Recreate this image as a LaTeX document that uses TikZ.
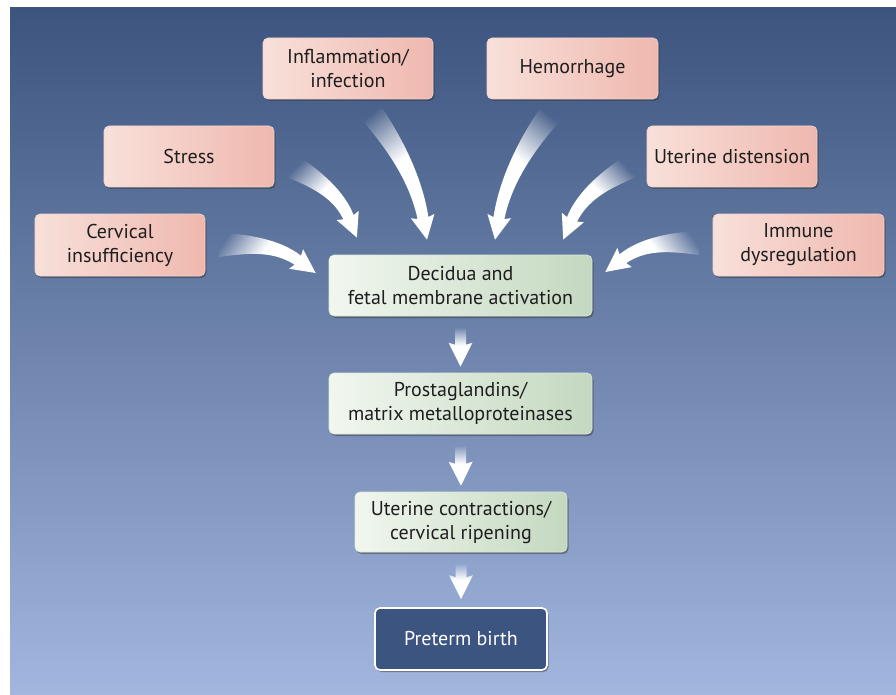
\documentclass[tikz,border=0pt]{standalone}
\usepackage{fontspec}
\setmainfont{PT Sans}
\usetikzlibrary{calc,shadows,fadings}
\definecolor{bgtop}{RGB}{60,84,126}
\definecolor{bgbot}{RGB}{162,182,222}
\definecolor{pinkL}{RGB}{248,224,218}
\definecolor{pinkR}{RGB}{239,184,174}
\definecolor{greenL}{RGB}{241,247,239}
\definecolor{greenR}{RGB}{196,216,192}
\definecolor{ptb}{RGB}{60,84,128}
\definecolor{txt}{RGB}{30,30,30}
\pgfdeclarehorizontalshading{tfshade}{100bp}{color(0bp)=(black); color(25bp)=(black); color(48bp)=(white); color(100bp)=(white)}
\pgfdeclarefading{tailfade}{\pgfuseshading{tfshade}}
\newcommand\cvarrow[4]{%
  \pgfpointdiff{\pgfpointanchor{#1}{center}}{\pgfpointanchor{#2}{center}}%
  \pgfgetlastxy{\cvdx}{\cvdy}%
  \pgfmathsetmacro\cvang{atan2(\cvdy,\cvdx)}%
  \pgfmathsetmacro\cvL{veclen(\cvdx,\cvdy)}%
  \pgfmathsetmacro\cvb{atan(4*(#3)/\cvL)}%
  \pgfmathsetmacro\cvcb{cos(\cvb)}\pgfmathsetmacro\cvsb{sin(\cvb)}%
  \pgfmathsetmacro\cvNx{\cvL-22*\cvcb}%
  \pgfmathsetmacro\cvNy{22*\cvsb}%
  \pgfmathsetmacro\cvd{\cvNx/3}%
  \pgfmathsetmacro\cwa{#4}%
  \pgfmathsetmacro\cwb{0.7*(#4)+0.3*5.5}%
  \pgfmathsetmacro\cwc{0.2*(#4)+0.8*5.5}%
  \pgfmathsetmacro\cwd{5.5}%
  \begin{scope}[shift={(#1)},rotate=\cvang,x=1pt,y=1pt]
  \fill[white,path fading=tailfade,fading angle=\cvang]
    ({-\cwa*\cvsb},{\cwa*\cvcb})
    .. controls ({\cvd*\cvcb-\cwb*\cvsb},{\cvd*\cvsb+\cwb*\cvcb})
       and ({\cvNx-\cvd*\cvcb+\cwc*\cvsb},{\cvNy+\cvd*\cvsb+\cwc*\cvcb})
    .. ({\cvNx+\cwd*\cvsb},{\cvNy+\cwd*\cvcb})
    -- ({\cvNx-2*\cvcb+12*\cvsb},{\cvNy+2*\cvsb+12*\cvcb})
    -- (\cvL,0)
    -- ({\cvNx-2*\cvcb-12*\cvsb},{\cvNy+2*\cvsb-12*\cvcb})
    -- ({\cvNx-\cwd*\cvsb},{\cvNy-\cwd*\cvcb})
    .. controls ({\cvNx-\cvd*\cvcb-\cwc*\cvsb},{\cvNy+\cvd*\cvsb-\cwc*\cvcb})
       and ({\cvd*\cvcb+\cwb*\cvsb},{\cvd*\cvsb-\cwb*\cvcb})
    .. ({\cwa*\cvsb},{-\cwa*\cvcb}) -- cycle;
  \end{scope}}
\begin{document}
\begin{tikzpicture}[x=1pt,y=-1pt,
  basebox/.style={rounded corners=5pt, minimum height=61pt, inner sep=3pt,
    align=center, font=\fontsize{20}{24}\selectfont,
    drop shadow={shadow xshift=1.5pt,shadow yshift=-2pt,opacity=0.45,fill=black!80}},
  pinkbox/.style={basebox, left color=pinkL, right color=pinkR, draw=pinkR!60!white, line width=0.6pt, text=txt},
  greenbox/.style={basebox, left color=greenL, right color=greenR, draw=greenR!60!white, line width=0.6pt, text=txt},
  endbox/.style={basebox, fill=ptb, draw=white, line width=1.6pt, text=white}]
\useasboundingbox (0,0) rectangle (896,695);
\fill[white] (0,0) rectangle (896,695);
\shade[top color=bgtop, bottom color=bgbot] (10,8) rectangle (896,695);

\node[pinkbox, minimum width=170pt] (infl) at (348,68.5) {Inflammation/\\infection};
\node[pinkbox, minimum width=171pt] (hem) at (572.5,68.5) {Hemorrhage};
\node[pinkbox, minimum width=170pt] (stress) at (189,156.5) {Stress};
\node[pinkbox, minimum width=170pt] (udist) at (732,156.5) {Uterine distension};
\node[pinkbox, minimum width=170pt, minimum height=62pt] (cerv) at (120,245) {Cervical\\insufficiency};
\node[pinkbox, minimum width=171pt, minimum height=62pt] (imm) at (798.5,245) {Immune\\dysregulation};
\node[greenbox, minimum width=263pt] (dec) at (460.5,285.5) {Decidua and\\fetal membrane activation};
\node[greenbox, minimum width=263pt] (prost) at (460.5,403.5) {Prostaglandins/\\matrix metalloproteinases};
\node[greenbox, minimum width=212pt, minimum height=60pt] (ucon) at (461,522) {Uterine contractions/\\cervical ripening};
\node[endbox, minimum width=172pt, minimum height=62pt] (ptb) at (461,639) {Preterm birth};

\coordinate (a1t) at ($(cerv.east)+(13,0)$);
\coordinate (a1h) at ($(dec.west)+(-13,-12.5)$);
\coordinate (a2t) at ($(stress.east)+(16,9)$);
\coordinate (a2h) at ($(dec.north)+(-103.5,-17)$);
\coordinate (a3t) at ($(infl.south)+(19,8)$);
\coordinate (a3h) at ($(dec.north)+(-33.5,-15)$);
\coordinate (a4t) at ($(hem.south)+(-18.5,10)$);
\coordinate (a4h) at ($(dec.north)+(34.5,-15)$);
\coordinate (a5t) at ($(udist.west)+(-14,9)$);
\coordinate (a5h) at ($(dec.north)+(102.5,-15)$);
\coordinate (a6t) at ($(imm.west)+(-13,-2)$);
\coordinate (a6h) at ($(dec.east)+(13,-13.5)$);
\coordinate (v1t) at ($(dec.south)+(0,11)$);
\coordinate (v1h) at ($(prost.north)+(0,-6)$);
\coordinate (v2t) at ($(prost.south)+(0,11)$);
\coordinate (v2h) at ($(ucon.north)+(0,-6)$);
\coordinate (v3t) at ($(ucon.south)+(0,11)$);
\coordinate (v3h) at ($(ptb.north)+(0,-8)$);

\cvarrow{a1t}{a1h}{9}{12}
\cvarrow{a2t}{a2h}{9}{12}
\cvarrow{a3t}{a3h}{9}{12}
\cvarrow{a4t}{a4h}{-9}{12}
\cvarrow{a5t}{a5h}{-9}{12}
\cvarrow{a6t}{a6h}{-9}{12}
\cvarrow{v1t}{v1h}{0}{5.5}
\cvarrow{v2t}{v2h}{0}{5.5}
\cvarrow{v3t}{v3h}{0}{5.5}
\end{tikzpicture}
\end{document}
